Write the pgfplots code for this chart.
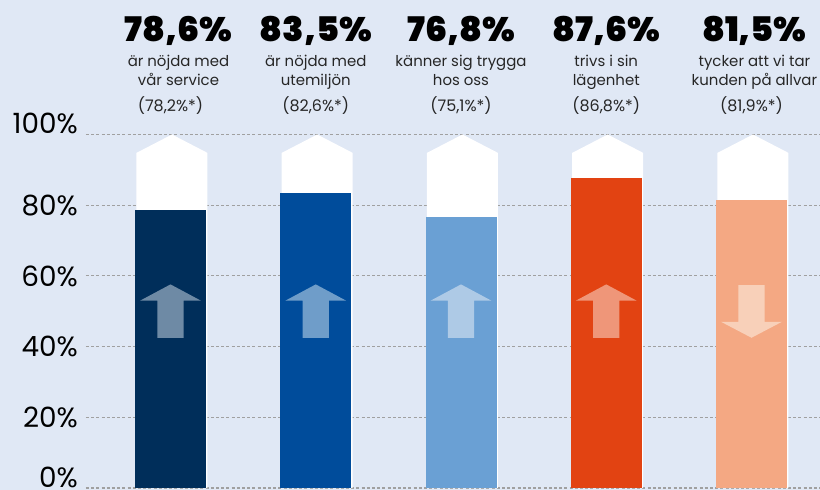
\documentclass[border=0pt]{standalone}
\usepackage{fontspec}
\setmainfont{Poppins}
\newfontfamily\heavy{Poppins Black}
\usepackage{graphicx}
\usepackage{pgfplots}
\pgfplotsset{compat=1.18}

\definecolor{bg}{HTML}{E0E8F5}
\definecolor{gridc}{HTML}{A0A0A0}
\definecolor{c1}{HTML}{002E5A}\definecolor{a1}{HTML}{6E8AA5}
\definecolor{c2}{HTML}{004C9B}\definecolor{a2}{HTML}{6F9DC9}
\definecolor{c3}{HTML}{6AA0D4}\definecolor{a3}{HTML}{AECAE6}
\definecolor{c4}{HTML}{E24312}\definecolor{a4}{HTML}{EF9679}
\definecolor{c5}{HTML}{F4A883}\definecolor{a5}{HTML}{F8D0B9}

% white "house" behind each bar
\newcommand\house[1]{\fill[white] (axis cs:#1-0.2344,0) -- (axis cs:#1-0.2344,94.8) -- (axis cs:#1+0.0100,100) -- (axis cs:#1+0.2544,94.8) -- (axis cs:#1+0.2544,0) -- cycle;}
\newcommand\uparr[2]{\fill[#2] (axis cs:#1-0.0906,42.5) -- (axis cs:#1-0.0906,53.0) -- (axis cs:#1-0.209,53.0) -- (axis cs:#1,57.6) -- (axis cs:#1+0.209,53.0) -- (axis cs:#1+0.0906,53.0) -- (axis cs:#1+0.0906,42.5) -- cycle;}
\newcommand\downarr[2]{\fill[#2] (axis cs:#1-0.0906,57.4) -- (axis cs:#1-0.0906,47.0) -- (axis cs:#1-0.209,47.0) -- (axis cs:#1,42.5) -- (axis cs:#1+0.209,47.0) -- (axis cs:#1+0.0906,47.0) -- (axis cs:#1+0.0906,57.4) -- cycle;}
% #1 x of headline and subtitle, #6 x of the value in brackets
\newcommand\labels[6]{%
  \node[anchor=base, font=\heavy\fontsize{34}{34}\selectfont, text=black] at (axis cs:#1,126.2) {\scalebox{1.03}[1]{#2}};
  \node[anchor=base, font=\fontsize{15}{15}\selectfont, text=black!85] at (axis cs:#1,119.1) {#3};
  \node[anchor=base, font=\fontsize{15}{15}\selectfont, text=black!85] at (axis cs:#1,114.0) {#4};
  \node[anchor=base, font=\fontsize{16}{16}\selectfont, text=black!85] at (axis cs:#6,106.4) {#5};}

\begin{document}
\begin{tikzpicture}
\fill[bg] (-86bp,-2bp) rectangle (734bp,488bp);
\begin{axis}[
    scale only axis,
    width=734bp, height=353.5bp,
    xmin=-0.5818, xmax=4.4716,
    ymin=0, ymax=100,
    axis line style={draw=none},
    xtick=\empty,
    ytick={20,40,60,80},
    extra y ticks={0,100},
    extra y tick style={grid=major, yticklabel style={yshift=11bp}},
    major tick length=0pt,
    ymajorgrids=true,
    grid style={gridc, line width=1.2bp, dash pattern=on 3bp off 2.2bp},
    yticklabel={\pgfmathprintnumber{\tick}\%},
    yticklabel style={anchor=east, inner sep=0pt, xshift=-8bp,
        font=\fontsize{28}{28}\selectfont},
    /pgf/number format/assume math mode=true,
    clip=false,
]
\house{0}\house{1}\house{2}\house{3}\house{4}

\addplot[ybar, bar width=71bp, bar shift=0pt, fill=c1, draw=none] coordinates {(0,78.6)};
\addplot[ybar, bar width=71bp, bar shift=0pt, fill=c2, draw=none] coordinates {(1,83.5)};
\addplot[ybar, bar width=71bp, bar shift=0pt, fill=c3, draw=none] coordinates {(2,76.8)};
\addplot[ybar, bar width=71bp, bar shift=0pt, fill=c4, draw=none] coordinates {(3,87.6)};
\addplot[ybar, bar width=71bp, bar shift=0pt, fill=c5, draw=none] coordinates {(4,81.5)};

\uparr{0}{a1}\uparr{1}{a2}\uparr{2}{a3}\uparr{3}{a4}\downarr{4}{a5}

\labels{0.055}{78,6\%}{är nöjda med}{vår service}{(78,2\%*)}{0}
\labels{1}{83,5\%}{är nöjda med}{utemiljön}{(82,6\%*)}{1}
\labels{2}{76,8\%}{känner sig trygga}{hos oss}{(75,1\%*)}{2}
\labels{3}{87,6\%}{trivs i sin}{lägenhet}{(86,8\%*)}{3}
\labels{4.02}{81,5\%}{tycker att vi tar}{kunden på allvar}{(81,9\%*)}{4}
\end{axis}
\pgfresetboundingbox
\path[use as bounding box] (-86bp,-2bp) rectangle (734bp,488bp);
\end{tikzpicture}
\end{document}
